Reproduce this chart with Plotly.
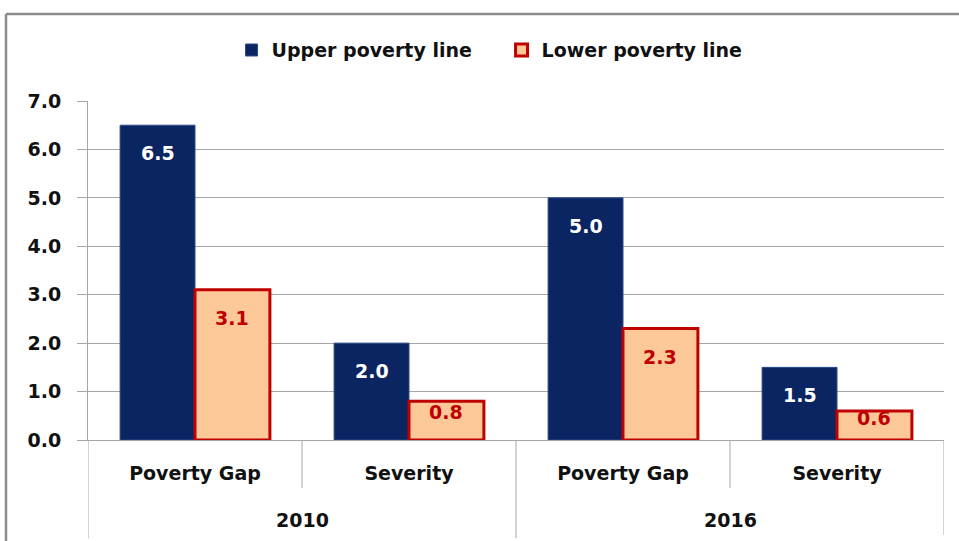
import plotly.graph_objects as go

# Poverty gap and severity indices, by survey year
years = ["2010", "2016"]
measures = ["Poverty Gap", "Severity", "Poverty Gap", "Severity"]
upper_line = [6.5, 2.0, 5.0, 1.5]
lower_line = [3.1, 0.8, 2.3, 0.6]
y_ticks = [0.0, 1.0, 2.0, 3.0, 4.0, 5.0, 6.0, 7.0]

FONT = "DejaVu Sans"
NAVY = "#0b2462"
PEACH = "#fdc898"
RED = "#c00000"
GRID = "#a6a6a6"

x_pos = list(range(len(measures)))

fig = go.Figure()
fig.add_trace(go.Bar(
    x=x_pos, y=upper_line, name="Upper poverty line",
    marker=dict(color=NAVY, line=dict(color="#2d4a8a", width=1)),
))
fig.add_trace(go.Bar(
    x=x_pos, y=lower_line, name="Lower poverty line",
    marker=dict(color=PEACH, line=dict(color=RED, width=3)),
))

# Value labels just inside the top of each bar
PX_PER_UNIT = 339 / 7.0
def label_shift(v):
    h = v * PX_PER_UNIT
    return -min(28, max(7, h - 28))

annotations = []
for i, v in enumerate(upper_line):
    annotations.append(dict(
        x=i - 0.175, y=v, xref="x", yref="y", text=f"<b>{v:.1f}</b>",
        showarrow=False, yanchor="middle", yshift=label_shift(v),
        font=dict(family=FONT, size=19, color="white"),
    ))
for i, v in enumerate(lower_line):
    annotations.append(dict(
        x=i + 0.175, y=v, xref="x", yref="y", text=f"<b>{v:.1f}</b>",
        showarrow=False, yanchor="middle", yshift=label_shift(v),
        font=dict(family=FONT, size=19, color=RED),
    ))

# Year group labels under the measure labels
for g, yr in enumerate(years):
    annotations.append(dict(
        x=2 * g + 0.5, y=-0.236, xref="x", yref="paper", text=f"<b>{yr}</b>",
        showarrow=False, yanchor="middle",
        font=dict(family=FONT, size=19, color="#111111"),
    ))

shapes = []
# Category dividers: short ones between measures, long ones between years
for xb, y1 in [(-0.5, -0.29), (0.5, -0.142), (1.5, -0.29), (2.5, -0.142), (3.5, -0.28)]:
    shapes.append(dict(type="line", xref="x", yref="paper", x0=xb, x1=xb,
                       y0=0, y1=y1, line=dict(color=GRID, width=1)))
# Outer frame (top and left edges)
shapes.append(dict(type="line", xref="paper", yref="paper", x0=-0.0958, x1=1.1,
                   y0=1.2566, y1=1.2566, line=dict(color="#8c8c8c", width=2.5)))
shapes.append(dict(type="line", xref="paper", yref="paper", x0=-0.0958, x1=-0.0958,
                   y0=1.2566, y1=-0.32, line=dict(color="#8c8c8c", width=2.5)))

fig.update_layout(
    width=959, height=541,
    margin=dict(l=88, r=15, t=101, b=101),
    paper_bgcolor="white", plot_bgcolor="white",
    barmode="group", bargap=0.3, bargroupgap=0,
    font=dict(family=FONT, size=19, color="#111111"),
    showlegend=True,
    legend=dict(
        orientation="h", x=0.1677, xanchor="left", y=1.15, yanchor="middle",
        font=dict(family=FONT, size=19, color="#111111", weight="bold"),
        itemwidth=30, entrywidth=225, bgcolor="rgba(0,0,0,0)",
    ),
    xaxis=dict(
        tickmode="array", tickvals=x_pos, ticktext=measures,
        range=[-0.5, 3.5], showgrid=False, zeroline=False,
        showline=True, linecolor=GRID, linewidth=1,
        ticks="", ticklabelstandoff=16,
        tickfont=dict(family=FONT, size=19, color="#111111", weight="bold"),
    ),
    yaxis=dict(
        range=[0, 7], tickmode="array", tickvals=y_ticks,
        ticktext=[f"{t:.1f}" for t in y_ticks],
        showgrid=True, gridcolor=GRID, gridwidth=1, zeroline=False,
        showline=True, linecolor=GRID, linewidth=1,
        ticks="outside", ticklen=10, tickcolor=GRID, ticklabelstandoff=12,
        tickfont=dict(family=FONT, size=19, color="#111111", weight="bold"),
    ),
    annotations=annotations,
    shapes=shapes,
)

fig.write_html("out.html")
